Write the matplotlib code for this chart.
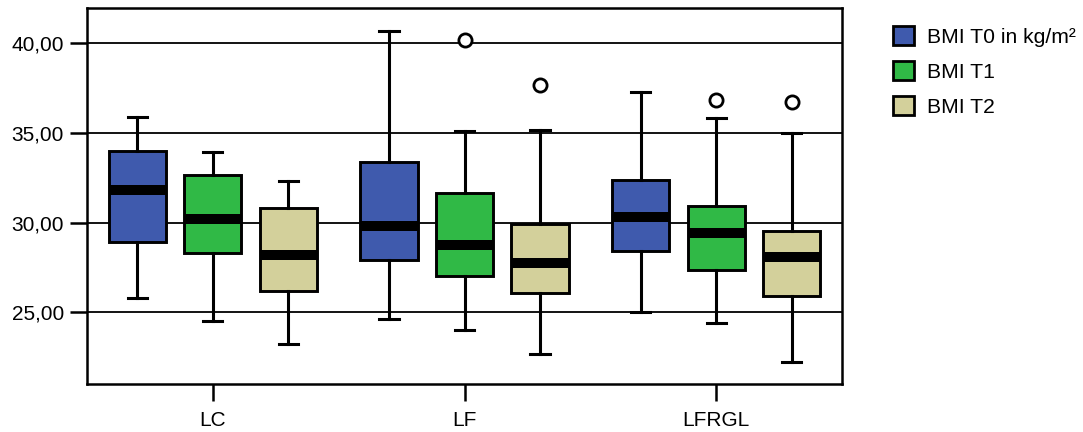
import matplotlib
matplotlib.use("Agg")
import matplotlib.pyplot as plt
from matplotlib.patches import Patch
from matplotlib.ticker import FuncFormatter

plt.rcParams['font.family'] = ['Liberation Sans', 'DejaVu Sans']

groups = ["LC", "LF", "LFRGL"]
series = ["BMI T0 in kg/m²", "BMI T1", "BMI T2"]
colors = ["#3f5aad", "#30b946", "#d3d09b"]

# per group, per series: (whislo, q1, median, q3, whishi)
stats_T0 = [(25.8, 28.9, 31.8, 34.0, 35.9),
            (24.6, 27.9, 29.8, 33.4, 40.7),
            (25.0, 28.4, 30.3, 32.4, 37.3)]
stats_T1 = [(24.5, 28.3, 30.2, 32.65, 33.95),
            (24.0, 27.0, 28.75, 31.65, 35.1),
            (24.4, 27.35, 29.4, 30.95, 35.85)]
stats_T2 = [(23.25, 26.2, 28.2, 30.8, 32.3),
            (22.7, 26.1, 27.75, 29.95, 35.15),
            (22.2, 25.9, 28.1, 29.55, 35.0)]
outliers_T0 = [[], [], []]
outliers_T1 = [[], [40.2], [36.85]]
outliers_T2 = [[], [37.7], [36.75]]

all_stats = [stats_T0, stats_T1, stats_T2]
all_out = [outliers_T0, outliers_T1, outliers_T2]

fig = plt.figure(figsize=(10.83, 4.32), dpi=100)
ax = fig.add_axes([87/1083, 1-384/432, (842-87)/1083, (384-7.5)/432])

offsets = [-0.3, 0.0, 0.3]
width = 0.227
for si in range(3):
    bstats = []
    for gi in range(3):
        lo, q1, med, q3, hi = all_stats[si][gi]
        bstats.append(dict(whislo=lo, q1=q1, med=med, q3=q3, whishi=hi,
                           fliers=all_out[si][gi], label=""))
    pos = [gi + 1 + offsets[si] for gi in range(3)]
    ax.bxp(bstats, positions=pos, widths=width, capwidths=0.076,
           patch_artist=True, showfliers=True, manage_ticks=False,
           boxprops=dict(facecolor=colors[si], edgecolor="black", linewidth=2.1),
           medianprops=dict(color="black", linewidth=7.2, solid_capstyle="butt"),
           whiskerprops=dict(color="black", linewidth=2.2),
           capprops=dict(color="black", linewidth=2.2),
           flierprops=dict(marker="o", markerfacecolor="white", markeredgecolor="black",
                           markersize=9.5, markeredgewidth=2.0),
           zorder=3)

ax.set_xlim(0.5, 3.5)
ax.set_ylim(21.0, 42.0)
ax.set_yticks([25, 30, 35, 40])
ax.yaxis.set_major_formatter(FuncFormatter(lambda v, p: f"{v:.2f}".replace(".", ",")))
ax.set_xticks([1, 2, 3])
ax.set_xticklabels(groups)
for y in [25, 30, 35, 40]:
    ax.axhline(y, color="black", linewidth=1.3, zorder=1)
for s in ax.spines.values():
    s.set_linewidth(1.8)
ax.tick_params(axis="both", direction="out", length=12.5, width=1.8,
               labelsize=15, colors="black")
ax.tick_params(axis="y", pad=4)
ax.tick_params(axis="x", pad=7)

handles = [Patch(facecolor=c, edgecolor="black", linewidth=2.0) for c in colors]
fig.legend(handles, series, loc="upper left", bbox_to_anchor=(893/1083, 1-26/432),
           frameon=False, fontsize=15.2, handlelength=1.0, handleheight=1.0,
           handletextpad=0.62, labelspacing=0.68, borderaxespad=0, borderpad=0)

fig.savefig("out.png", dpi=100)
